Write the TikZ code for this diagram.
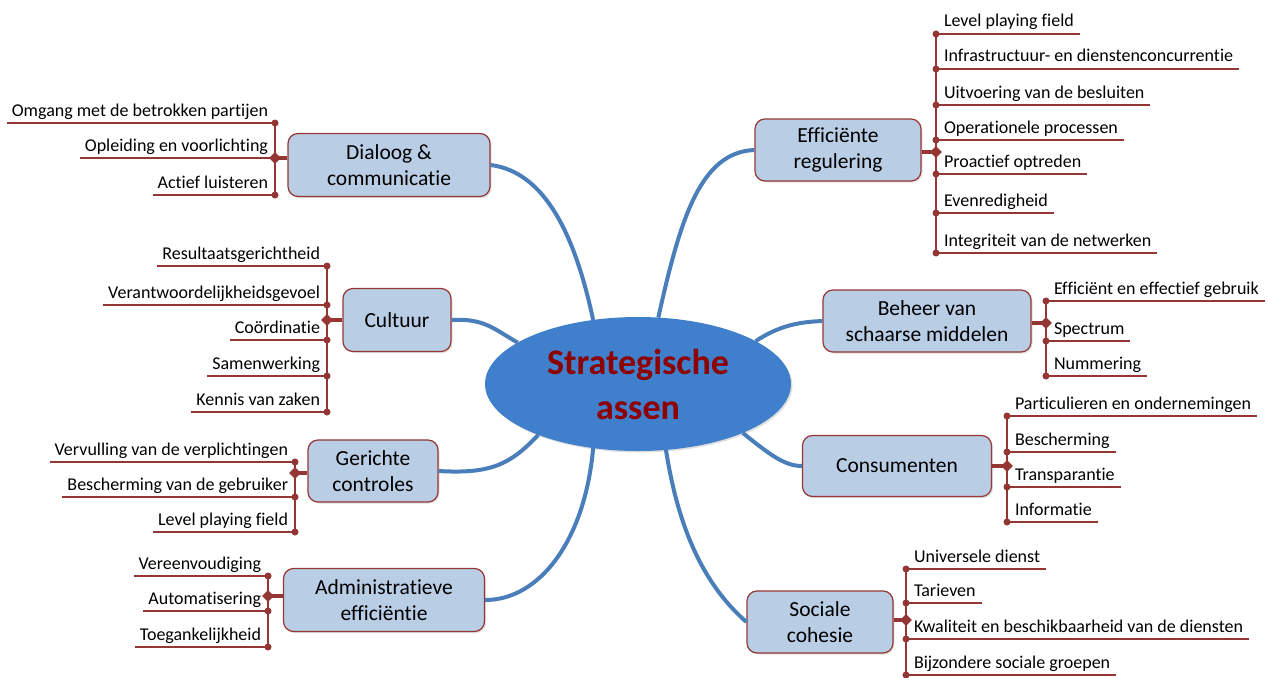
\documentclass[tikz,border=0pt]{standalone}
\usepackage{fontspec}
\setmainfont{Carlito}[Ligatures={NoCommon}]
\usetikzlibrary{shapes.geometric,calc,shadows}
\definecolor{ellblue}{HTML}{3F7FCB}
\definecolor{conblue}{HTML}{4A7EBB}
\definecolor{boxfill}{HTML}{B9CDE5}
\definecolor{boxdraw}{HTML}{953735}
\definecolor{busred}{HTML}{943634}
\definecolor{titlered}{HTML}{8E0000}
\newcommand{\rbr}[4]{%
  \coordinate (#1b) at (#2,#3);
  \node[lbl,anchor=base west] (#1) at (#2+8,#3-7) {#4};
  \draw[uline] (#1b) -- ($(#1b -| #1.east)+(6,0)$);
  \fill[busred] (#1b) circle (3.5pt);
}
\newcommand{\lbr}[4]{%
  \coordinate (#1b) at (#2,#3);
  \node[lbl,anchor=base east] (#1) at (#2-7,#3-7) {#4};
  \draw[uline] (#1b) -- ($(#1b -| #1.west)+(-5,0)$);
  \fill[busred] (#1b) circle (3.5pt);
}
\tikzset{
  lbl/.style={inner sep=0pt,outer sep=0pt,font=\fontsize{18}{21}\selectfont},
  uline/.style={draw=busred,line width=1.3pt},
  busline/.style={draw=busred,line width=1.8pt},
  stub/.style={draw=busred,line width=3.5pt},
  dmd/.style={diamond,fill=busred,inner sep=0pt,minimum size=12pt},
  box/.style={draw=boxdraw,fill=boxfill,rounded corners=10pt,line width=1.2pt,
    align=center,inner sep=0pt,font=\fontsize{21.5}{26}\selectfont,
    drop shadow={shadow xshift=1.5pt,shadow yshift=-1.5pt,opacity=0.25}},
  con/.style={draw=conblue,line width=4pt}
}
\begin{document}
\begin{tikzpicture}[x=1pt,y=-1pt]
\useasboundingbox (0,0) rectangle (1268,677);
% central ellipse
\node[ellipse,fill=ellblue,minimum width=306pt,minimum height=134pt,inner sep=0pt,outer sep=0pt,
  text=titlered,font=\fontsize{36}{45}\selectfont\bfseries,align=center,
  drop shadow={shadow xshift=1.5pt,shadow yshift=-1.5pt,opacity=0.25}] (M) at (638,384) {Strategische\\assen};
% boxes
\node[box,minimum width=202pt,minimum height=63pt] (D) at (389,165) {Dialoog \&\\communicatie};
\node[box,minimum width=108pt,minimum height=63pt] (C) at (397,320) {Cultuur};
\node[box,minimum width=130pt,minimum height=62pt] (G) at (373,471) {Gerichte\\controles};
\node[box,minimum width=201pt,minimum height=63pt] (A) at (384,600) {Administratieve\\efficiëntie};
\node[box,minimum width=166pt,minimum height=62pt] (E) at (838,150) {Efficiënte\\regulering};
\node[box,minimum width=208pt,minimum height=62pt] (B) at (927,321) {Beheer van\\schaarse middelen};
\node[box,minimum width=189pt,minimum height=61pt] (K) at (897,466) {Consumenten};
\node[box,minimum width=146pt,minimum height=62pt] (S) at (820,622) {Sociale\\cohesie};
% blue connectors
\draw[con] (M.125) .. controls (575,235) and (545,172) .. (D.east);
\draw[con] (M.73) .. controls (680,220) and (700,152) .. (E.west);
\draw[con] (C.east) .. controls (485,318) and (495,330) .. (M.161.6);
\draw[con] (M.207) .. controls (510,465) and (490,474) .. (G.east);
\draw[con] (M.235.5) .. controls (585,540) and (540,600) .. (A.east);
\draw[con] (M.293.7) .. controls (680,540) and (710,590) .. (S.west);
\draw[con] (M.335.4) .. controls (770,455) and (785,466) .. (K.west);
\draw[con] (M.20.6) .. controls (780,325) and (800,322) .. (B.west);
% Dialoog branches
\lbr{D1}{275}{123}{Omgang met de betrokken partijen}
\lbr{D2}{275}{158}{Opleiding en voorlichting}
\lbr{D3}{275}{195}{Actief luisteren}
\draw[busline] (D1b) -- (D3b);
\node[dmd] (Dd) at (275,158) {};
\draw[stub] (D.west |- Dd) -- (Dd.center);
% Cultuur branches
\lbr{C1}{327}{266}{Resultaatsgerichtheid}
\lbr{C2}{327}{305}{Verantwoordelijkheidsgevoel}
\lbr{C3}{327}{340}{Coördinatie}
\lbr{C4}{327}{376}{Samenwerking}
\lbr{C5}{327}{412}{Kennis van zaken}
\draw[busline] (C1b) -- (C5b);
\node[dmd] (Cd) at (327,320) {};
\draw[stub] (C.west |- Cd) -- (Cd.center);
% Gerichte branches
\lbr{G1}{295}{462}{Vervulling van de verplichtingen}
\lbr{G2}{295}{497}{Bescherming van de gebruiker}
\lbr{G3}{295}{532}{Level playing field}
\draw[busline] (G1b) -- (G3b);
\node[dmd] (Gd) at (295,473) {};
\draw[stub] (G.west |- Gd) -- (Gd.center);
% Administratieve branches
\lbr{A1}{268}{576}{Vereenvoudiging}
\lbr{A2}{268}{611}{Automatisering}
\lbr{A3}{268}{647}{Toegankelijkheid}
\draw[busline] (A1b) -- (A3b);
\node[dmd] (Ad) at (268,596) {};
\draw[stub] (A.west |- Ad) -- (Ad.center);
% Efficiente regulering branches
\rbr{E1}{936}{34}{Level playing field}
\rbr{E2}{936}{69}{Infrastructuur- en dienstenconcurrentie}
\rbr{E3}{936}{105}{Uitvoering van de besluiten}
\rbr{E4}{936}{140}{Operationele processen}
\rbr{E5}{936}{174}{Proactief optreden}
\rbr{E6}{936}{213}{Evenredigheid}
\rbr{E7}{936}{253}{Integriteit van de netwerken}
\draw[busline] (E1b) -- (E7b);
\node[dmd] (Ed) at (936,152) {};
\draw[stub] (E.east |- Ed) -- (Ed.center);
% Beheer branches
\rbr{B1}{1046}{301}{Efficiënt en effectief gebruik}
\rbr{B2}{1046}{341}{Spectrum}
\rbr{B3}{1046}{376}{Nummering}
\draw[busline] (B1b) -- (B3b);
\node[dmd] (Bd) at (1046,323) {};
\draw[stub] (B.east |- Bd) -- (Bd.center);
% Consumenten branches
\rbr{K1}{1007}{416}{Particulieren en ondernemingen}
\rbr{K2}{1007}{452}{Bescherming}
\rbr{K3}{1007}{487}{Transparantie}
\rbr{K4}{1007}{522}{Informatie}
\draw[busline] (K1b) -- (K4b);
\node[dmd] (Kd) at (1007,466) {};
\draw[stub] (K.east |- Kd) -- (Kd.center);
% Sociale cohesie branches
\rbr{S1}{906}{569}{Universele dienst}
\rbr{S2}{906}{603}{Tarieven}
\rbr{S3}{906}{639}{Kwaliteit en beschikbaarheid van de diensten}
\rbr{S4}{906}{675}{Bijzondere sociale groepen}
\draw[busline] (S1b) -- (S4b);
\node[dmd] (Sd) at (906,620) {};
\draw[stub] (S.east |- Sd) -- (Sd.center);
\end{tikzpicture}
\end{document}
